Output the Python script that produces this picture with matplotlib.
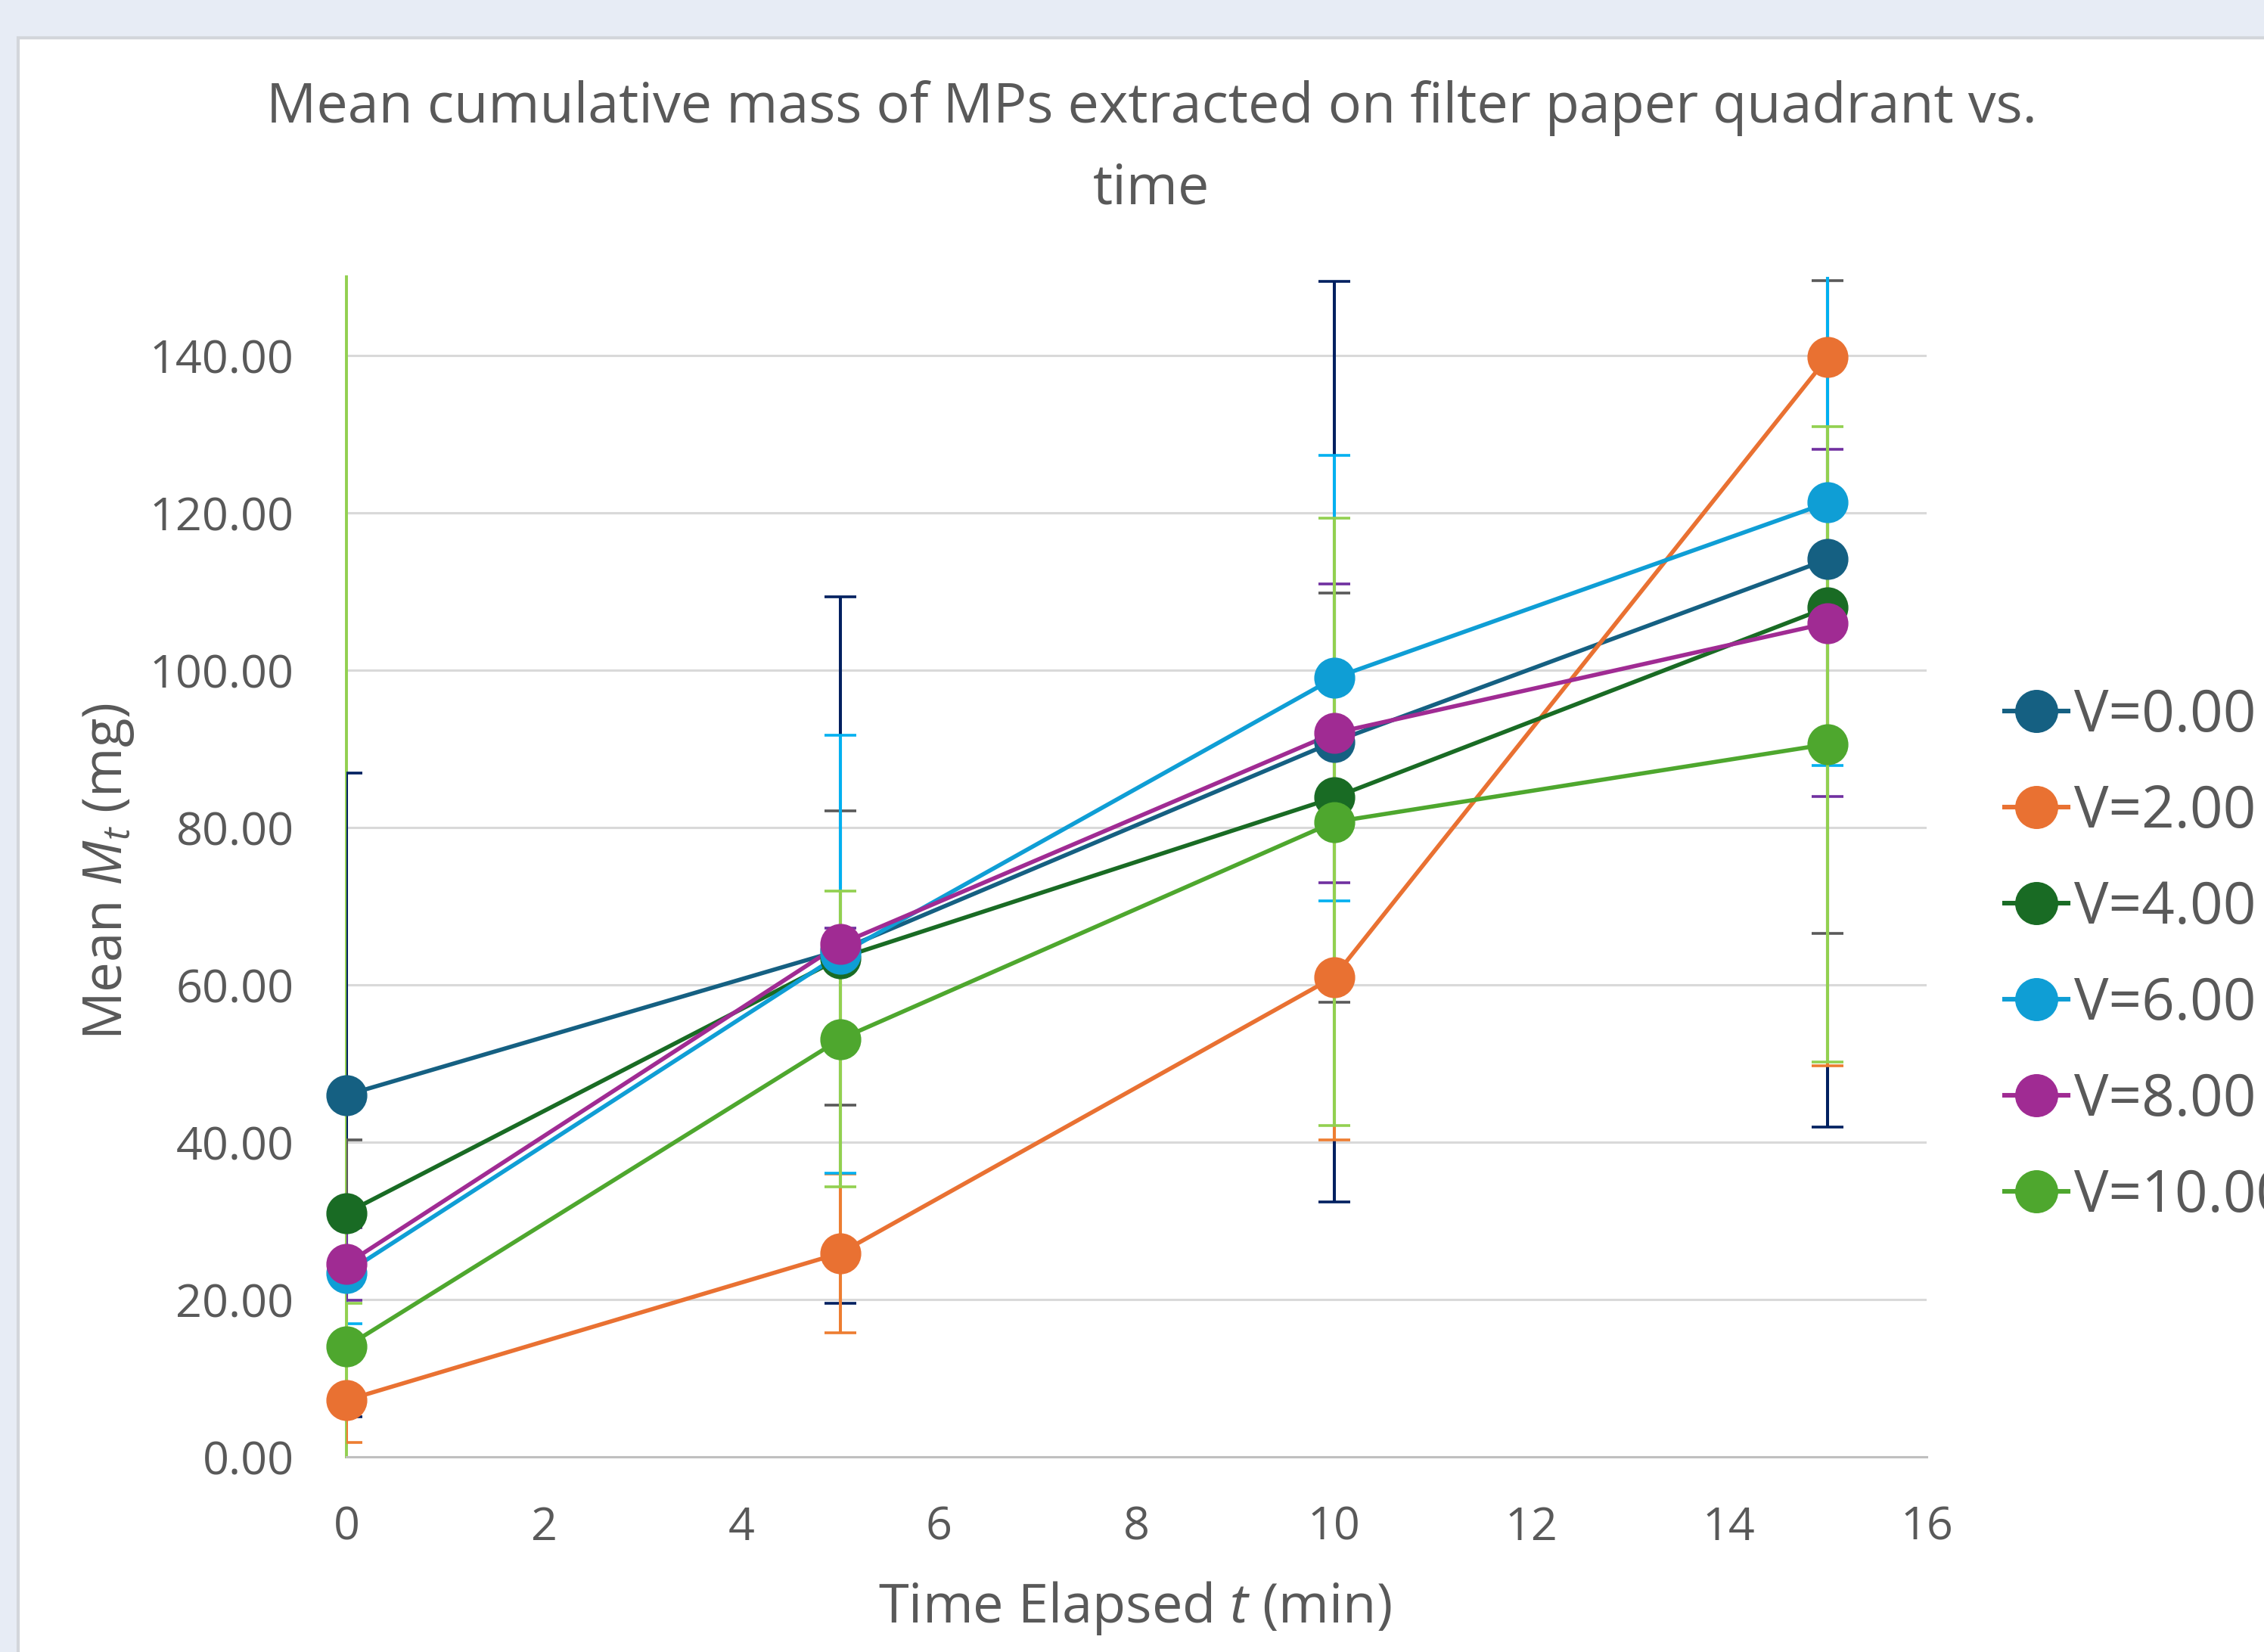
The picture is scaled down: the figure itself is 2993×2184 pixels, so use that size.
import matplotlib
matplotlib.use('Agg')
import matplotlib.pyplot as plt
from matplotlib.patches import Rectangle
from matplotlib.lines import Line2D

FONT = 'Open Sans'
plt.rcParams['font.family'] = [FONT, 'DejaVu Sans']
plt.rcParams['mathtext.fontset'] = 'custom'
plt.rcParams['mathtext.rm'] = FONT
plt.rcParams['mathtext.it'] = FONT + ':italic'

# ---------------- data ----------------
time_min = [0, 5, 10, 15]
series_labels = ['V=0.00', 'V=2.00', 'V=4.00', 'V=6.00', 'V=8.00', 'V=10.00']

v00_mean = [46.0, 64.4, 90.9, 114.1]
v00_err = [40.9, 44.9, 58.5, 72.2]
v02_mean = [7.2, 25.9, 61.0, 139.8]
v02_err = [5.4, 10.1, 20.7, 90.1]
v04_mean = [31.0, 63.4, 83.8, 108.0]
v04_err = [9.3, 18.7, 26.0, 41.5]
v06_mean = [23.4, 63.9, 99.0, 121.3]
v06_err = [6.5, 27.8, 28.3, 33.4]
v08_mean = [24.5, 65.2, 92.0, 106.0]
v08_err = [4.6, 2.0, 19.0, 22.1]
v10_mean = [14.0, 53.1, 80.7, 90.6]
v10_err = [5.5, 18.8, 38.6, 40.4]

y_ticks = [0, 20, 40, 60, 80, 100, 120, 140]
x_ticks = [0, 2, 4, 6, 8, 10, 12, 14, 16]

means = [v00_mean, v02_mean, v04_mean, v06_mean, v08_mean, v10_mean]
errs = [v00_err, v02_err, v04_err, v06_err, v08_err, v10_err]

line_colors = ['#156082', '#E97132', '#196B24', '#0F9ED5', '#A02B93', '#4EA72E']
err_colors = ['#002060', '#ED7D31', '#595959', '#00B0F0', '#7030A0', '#92D050']
TEXT = '#595959'

# ---------------- figure ----------------
W, H = 2993, 2184
DPI = 100
fig = plt.figure(figsize=(W / DPI, H / DPI), dpi=DPI, facecolor='#E7ECF5')

# white chart area with thin border (screenshot look)
bg = Rectangle((24 / W, -0.01), 1.01, 1.01 - 50 / H, transform=fig.transFigure,
               facecolor='white', edgecolor='#D3D6DB', linewidth=3, zorder=-5)
fig.add_artist(bg)

ax = fig.add_axes([458 / W, 1 - 1926 / H, (2547 - 458) / W, (1926 - 366) / H])
ax.set_zorder(1)
ax.set_facecolor('white')
ax.set_xlim(0, 16)
ax.set_ylim(0, 150)
ax.set_yticks(y_ticks)
ax.set_yticklabels([f'{v:.2f}' for v in y_ticks])
ax.set_xticks(x_ticks)
ax.set_xticklabels([str(v) for v in x_ticks])
ax.tick_params(axis='both', length=0, labelsize=44, labelcolor=TEXT)
ax.tick_params(axis='y', pad=50)
ax.tick_params(axis='x', pad=46)
ax.yaxis.grid(True, color='#D9D9D9', linewidth=2.2, zorder=0)
ax.set_axisbelow(True)
for s in ['top', 'right']:
    ax.spines[s].set_visible(False)
ax.spines['bottom'].set_color('#BFBFBF')
ax.spines['bottom'].set_linewidth(2.2)
ax.spines['left'].set_color('#92D050')
ax.spines['left'].set_linewidth(2.8)

# error bars (drawn first, in series order)
for i, (m, e) in enumerate(zip(means, errs)):
    ax.errorbar(time_min, m, yerr=e, fmt='none', ecolor=err_colors[i],
                elinewidth=2.9, capsize=15, capthick=2.6, zorder=3 + i * 0.01)

# lines and markers
handles = []
for i, m in enumerate(means):
    ax.plot(time_min, m, color=line_colors[i], linewidth=4.0, zorder=4 + i * 0.01)
    ax.plot(time_min, m, linestyle='none', marker='o', markersize=38,
            markerfacecolor=line_colors[i], markeredgecolor=line_colors[i],
            zorder=5 + i * 0.01, clip_on=False)
    handles.append(Line2D([], [], color=line_colors[i], linewidth=4.4, marker='o',
                          markersize=40, markerfacecolor=line_colors[i],
                          markeredgecolor=line_colors[i]))

# titles
fig.text(1522 / W, 1 - 143 / H, 'Mean cumulative mass of MPs extracted on filter paper quadrant vs.',
         ha='center', va='center', fontsize=53, color=TEXT)
fig.text(1522 / W, 1 - 250 / H, 'time', ha='center', va='center', fontsize=53, color=TEXT)

fig.text(143 / W, 1 - 1152 / H, 'Mean $M_t$ (mg)', rotation=90, ha='center', va='center',
         fontsize=51, color=TEXT)
fig.text(1500 / W, 1 - 2126 / H, 'Time Elapsed $t$ (min)', ha='center', va='center',
         fontsize=52, color=TEXT)

leg = fig.legend(handles, series_labels, loc='center left',
                 bbox_to_anchor=(2650 / W, 1 - 1264 / H), frameon=False,
                 fontsize=55, handlelength=1.1, handletextpad=0.1,
                 labelspacing=0.66, borderpad=0, borderaxespad=0, numpoints=1)
for t in leg.get_texts():
    t.set_color(TEXT)

fig.savefig('out.png', dpi=DPI, facecolor=fig.get_facecolor())
